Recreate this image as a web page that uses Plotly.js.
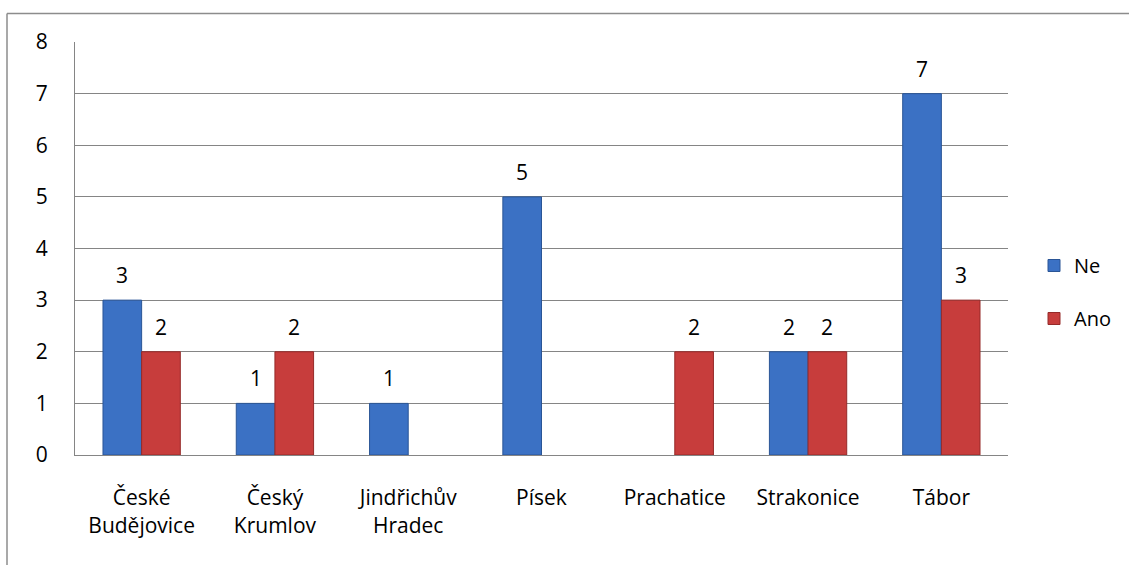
<!DOCTYPE html>
<html>
<head>
<meta charset="utf-8">
<script src="https://cdn.plot.ly/plotly-3.0.1.min.js"></script>
<style>
  html, body { margin: 0; padding: 0; background: #ffffff; }
  #chart { width: 1129px; height: 565px; }
</style>
</head>
<body>
<div id="chart"></div>
<script>
// ---- data ----
var categories = ["České Budějovice", "Český Krumlov", "Jindřichův Hradec", "Písek", "Prachatice", "Strakonice", "Tábor"];
var tickLabels = ["České<br>Budějovice", "Český<br>Krumlov", "Jindřichův<br>Hradec", "Písek", "Prachatice", "Strakonice", "Tábor"];
var seriesNames = ["Ne", "Ano"];
var neValues  = [3, 1, 1, 5, null, 2, 7];
var anoValues = [2, 2, null, null, 2, 2, 3];
var yTicks = [0, 1, 2, 3, 4, 5, 6, 7, 8];

// ---- styling ----
var FONT = "Open Sans, Noto Sans, sans-serif";
var blue = "#3b71c4", blueLine = "#2a5596";
var red = "#c73d3c", redLine = "#952a29";
var grid = "#858585";

var L = 75, R = 1129 - 1008, T = 42, B = 565 - 455;
var plotW = 1129 - L - R, plotH = 565 - T - B;

var traces = [
  { type: "bar", name: seriesNames[0], x: categories, y: neValues, legendgroup: "a",
    marker: { color: blue, line: { color: blueLine, width: 1 } }, hoverinfo: "none" },
  { type: "bar", name: seriesNames[1], x: categories, y: anoValues, legendgroup: "b",
    marker: { color: red, line: { color: redLine, width: 1 } }, hoverinfo: "none" }
];

var bargap = 0.42;
var catPx = plotW / categories.length;
var barPx = catPx * (1 - bargap) / 2;

var annotations = [];
[neValues, anoValues].forEach(function (vals, si) {
  vals.forEach(function (v, i) {
    if (v === null || v === undefined) return;
    annotations.push({
      x: categories[i], y: v, xref: "x", yref: "y",
      text: String(v), showarrow: false,
      xshift: (si === 0 ? -1 : 1) * barPx / 2,
      yshift: 25, yanchor: "middle",
      font: { family: FONT, size: 21, color: "#000" }
    });
  });
});

// outer frame (top and left edges visible)
var x0 = (7 - L) / plotW, x1 = (1129 - L) / plotW;
var yTop = 1 + (T - 13.5) / plotH, yBot = (455 - 565) / plotH;
var shapes = [
  { type: "line", xref: "paper", yref: "paper", x0: x0, x1: x1, y0: yTop, y1: yTop, line: { color: "#8c8c8c", width: 1.5 } },
  { type: "line", xref: "paper", yref: "paper", x0: x0, x1: x0, y0: yTop, y1: yBot, line: { color: "#8c8c8c", width: 1.5 } }
];

var layout = {
  width: 1129, height: 565,
  margin: { l: L, r: R, t: T, b: B, pad: 0 },
  paper_bgcolor: "#ffffff", plot_bgcolor: "#ffffff",
  barmode: "group", bargap: bargap, bargroupgap: 0,
  font: { family: FONT, size: 21, color: "#000" },
  showlegend: true,
  legend: {
    x: (1034 - L) / plotW, xanchor: "left",
    y: (455 - 292) / plotH, yanchor: "middle",
    traceorder: "grouped", tracegroupgap: 24,
    font: { family: FONT, size: 20, color: "#000" },
    itemwidth: 30, bgcolor: "rgba(0,0,0,0)"
  },
  xaxis: {
    type: "category", categoryorder: "array", categoryarray: categories,
    tickmode: "array", tickvals: categories, ticktext: tickLabels,
    showline: true, linecolor: grid, linewidth: 1,
    ticks: "outside", ticklen: 24, tickcolor: "rgba(0,0,0,0)",
    showgrid: false, zeroline: false,
    tickfont: { family: FONT, size: 21, color: "#000" }
  },
  yaxis: {
    range: [0, 8], tickmode: "array", tickvals: yTicks,
    showgrid: true, gridcolor: grid, gridwidth: 1,
    showline: true, linecolor: grid, linewidth: 1,
    zeroline: false,
    ticks: "outside", ticklen: 22, tickcolor: "rgba(0,0,0,0)",
    tickfont: { family: FONT, size: 21, color: "#000" }
  },
  annotations: annotations,
  shapes: shapes
};

Plotly.newPlot("chart", traces, layout, { staticPlot: true, displayModeBar: false });
</script>
</body>
</html>
